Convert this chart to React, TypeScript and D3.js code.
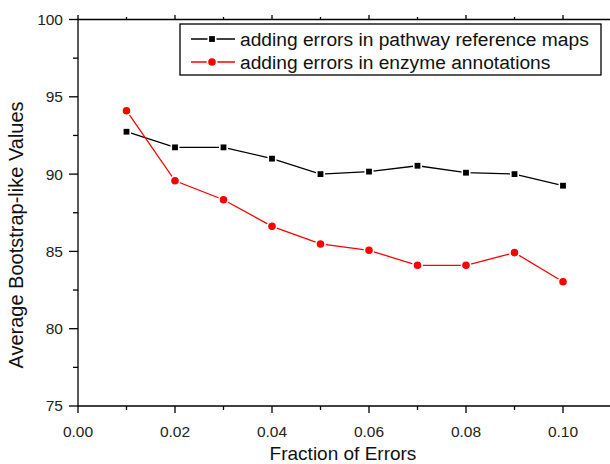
import React from "react";
import * as d3 from "d3";

const WIDTH = 610;
const HEIGHT = 464;
const FONT = "Liberation Sans, Arial, sans-serif";

const fractions = [0.01, 0.02, 0.03, 0.04, 0.05, 0.06, 0.07, 0.08, 0.09, 0.1];
const pathwayValues = [92.74, 91.73, 91.73, 91.0, 90.0, 90.16, 90.54, 90.09, 90.0, 89.25];
const enzymeValues = [94.1, 89.57, 88.34, 86.62, 85.48, 85.07, 84.1, 84.1, 84.92, 83.04];

const xTicks = [0, 0.02, 0.04, 0.06, 0.08, 0.1];
const xMinorTicks = [0.01, 0.03, 0.05, 0.07, 0.09];
const yTicks = [75, 80, 85, 90, 95, 100];
const yMinorTicks = [77.5, 82.5, 87.5, 92.5, 97.5];

const seriesNames = [
  "adding errors in pathway reference maps",
  "adding errors in enzyme annotations",
];

const App = () => {
  const x = d3.scaleLinear().domain([0, 0.11]).range([78, 611.5]);
  const y = d3.scaleLinear().domain([75, 100]).range([406, 19.5]);

  const line = d3
    .line<[number, number]>()
    .x((d) => x(d[0]))
    .y((d) => y(d[1]));

  const pathwayPts = fractions.map((f, i) => [f, pathwayValues[i]] as [number, number]);
  const enzymePts = fractions.map((f, i) => [f, enzymeValues[i]] as [number, number]);

  const square = (cx: number, cy: number, key: any) => (
    <rect
      key={key}
      x={cx - 3.7}
      y={cy - 3.7}
      width={7.4}
      height={7.4}
      fill="#000"
      stroke="#fff"
      strokeWidth={1.6}
    />
  );
  const dot = (cx: number, cy: number, key: any) => (
    <circle key={key} cx={cx} cy={cy} r={4.6} fill="#ff0000" stroke="#fff" strokeWidth={1.6} />
  );

  return (
    <div style={{ position: "absolute", left: 0, top: 0 }}>
      <svg width={WIDTH} height={HEIGHT} style={{ display: "block", background: "#fff" }}>
        {/* axes */}
        <g stroke="#000" strokeWidth={1.3}>
          <line x1={78} x2={611} y1={406} y2={406} />
          <line x1={78} x2={611} y1={19.5} y2={19.5} />
          <line x1={78} x2={78} y1={19.5} y2={406} />
          {xTicks.map((t) => (
            <g key={"xt" + t}>
              <line x1={x(t)} x2={x(t)} y1={406} y2={413} />
              <line x1={x(t)} x2={x(t)} y1={19.5} y2={15} />
            </g>
          ))}
          {xMinorTicks.map((t) => (
            <g key={"xm" + t}>
              <line x1={x(t)} x2={x(t)} y1={406} y2={410} />
              <line x1={x(t)} x2={x(t)} y1={19.5} y2={17} />
            </g>
          ))}
          {yTicks.map((t) => (
            <line key={"yt" + t} x1={69} x2={78} y1={y(t)} y2={y(t)} />
          ))}
          {yMinorTicks.map((t) => (
            <line key={"ym" + t} x1={73} x2={78} y1={y(t)} y2={y(t)} />
          ))}
        </g>
        <g fontFamily={FONT} fontSize={15.5} fill="#222">
          {xTicks.map((t) => (
            <text key={"xl" + t} x={x(t)} y={437} textAnchor="middle">
              {t.toFixed(2)}
            </text>
          ))}
          {yTicks.map((t) => (
            <text key={"yl" + t} x={63} y={y(t)} dy="0.35em" textAnchor="end">
              {t}
            </text>
          ))}
        </g>
        <text x={343} y={460} textAnchor="middle" fontFamily={FONT} fontSize={19} fill="#111">
          Fraction of Errors
        </text>
        <text
          transform="translate(23,235) rotate(-90)"
          textAnchor="middle"
          fontFamily={FONT}
          fontSize={20}
          fill="#111"
        >
          Average Bootstrap-like Values
        </text>

        {/* series */}
        <path d={line(pathwayPts) ?? ""} fill="none" stroke="#000" strokeWidth={1.3} />
        <path d={line(enzymePts) ?? ""} fill="none" stroke="#ff0000" strokeWidth={1.3} />
        {pathwayPts.map((d, i) => square(x(d[0]), y(d[1]), "s" + i))}
        {enzymePts.map((d, i) => dot(x(d[0]), y(d[1]), "c" + i))}

        {/* legend */}
        <rect x={180} y={24} width={421} height={51} fill="#fff" stroke="#000" strokeWidth={1.3} />
        {seriesNames.map((name, i) => {
          const ly = 39 + i * 23;
          const color = i === 0 ? "#000" : "#ff0000";
          return (
            <g key={name}>
              <line x1={191} x2={235} y1={ly} y2={ly} stroke={color} strokeWidth={1.3} />
              {i === 0 ? square(212, ly, "ls") : dot(212, ly, "lc")}
              <text x={240} y={ly} dy="0.35em" fontFamily={FONT} fontSize={19.2} fill="#111">
                {name}
              </text>
            </g>
          );
        })}
      </svg>
    </div>
  );
};

export default App;
